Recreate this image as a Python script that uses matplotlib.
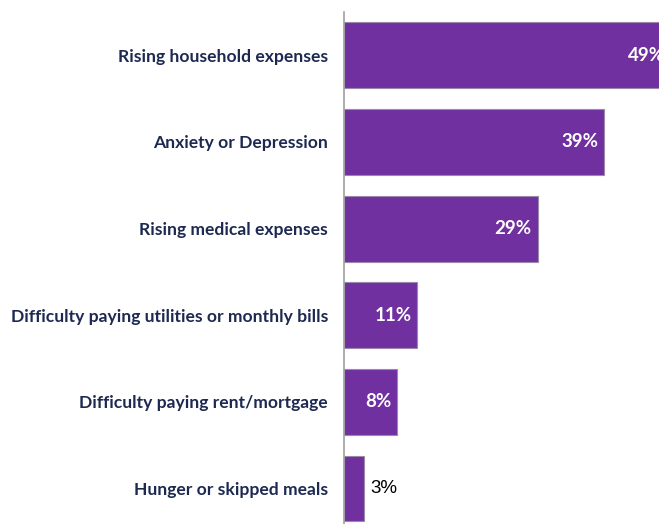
import matplotlib.pyplot as plt

categories = ["Rising household expenses", "Anxiety or Depression",
              "Rising medical expenses",
              "Difficulty paying utilities or monthly bills",
              "Difficulty paying rent/mortgage", "Hunger or skipped meals"]
values = [49, 39, 29, 11, 8, 3]

plt.rcParams['font.family'] = ['Lato', 'DejaVu Sans']

fig = plt.figure(figsize=(6.59, 5.24), dpi=100)
ax = fig.add_axes([0.522, 0.0, 0.478, 0.977])

pos = list(range(len(categories)))
ax.barh(pos, values, height=0.76, color='#7030a0', edgecolor='#9a8aa8', linewidth=0.8)
ax.set_xlim(0, 47.2)
ax.set_ylim(5.41, -0.5)

ax.set_yticks(pos)
ax.set_yticklabels(categories, fontsize=12.6, fontweight='bold', color='#1d2951')
ax.tick_params(axis='y', length=0, pad=11.5)
ax.set_xticks([])

for s in ['top', 'right', 'bottom']:
    ax.spines[s].set_visible(False)
ax.spines['left'].set_color('#a0a0a0')
ax.spines['left'].set_linewidth(1.2)

for y, v in zip(pos, values):
    if v >= 5:
        ax.text(v - 0.9, y, f"{v}%", ha='right', va='center', color='white',
                fontsize=13.5, fontweight='bold', clip_on=False)
    else:
        ax.text(v + 0.9, y, f"{v}%", ha='left', va='center', color='black',
                fontsize=13.5, family=['Liberation Sans', 'DejaVu Sans'])

fig.savefig('out.png', dpi=100)
